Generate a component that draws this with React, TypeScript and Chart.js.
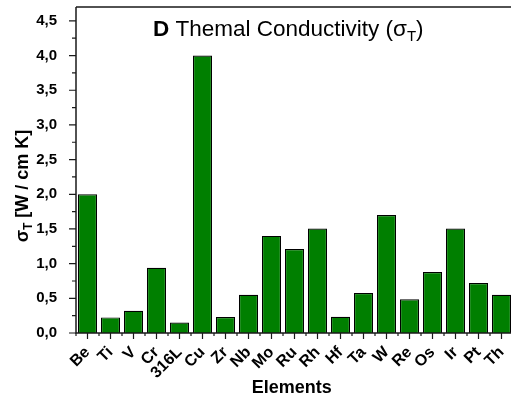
import React, { useEffect, useRef } from 'react';
import { Chart, registerables } from 'chart.js';

Chart.register(...registerables);

const categories = ['Be', 'Ti', 'V', 'Cr', '316L', 'Cu', 'Zr', 'Nb', 'Mo', 'Ru', 'Rh', 'Hf', 'Ta', 'W', 'Re', 'Os', 'Ir', 'Pt', 'Th'];
const conductivity = [2.0, 0.225, 0.32, 0.94, 0.15, 4.0, 0.23, 0.55, 1.4, 1.21, 1.505, 0.235, 0.577, 1.7, 0.485, 0.88, 1.505, 0.72, 0.55];
const yMajorTicks = [0, 0.5, 1.0, 1.5, 2.0, 2.5, 3.0, 3.5, 4.0, 4.5];
const yMinorTicks = [0.25, 0.75, 1.25, 1.75, 2.25, 2.75, 3.25, 3.75, 4.25];
const yMax = 4.7;
const titleBold = 'D';
const titleText = ' Themal Conductivity (';
const yTitleText = ' [W / cm K]';
const xTitleText = 'Elements';

const FONT = '"Liberation Sans", Arial, sans-serif';

const decorPlugin = {
  id: 'decor',
  afterDraw(chart: any) {
    const ctx = chart.ctx as CanvasRenderingContext2D;
    const area = chart.chartArea;
    const xs = chart.scales.x;
    const ys = chart.scales.y;
    ctx.save();
    // frame lines
    ctx.strokeStyle = '#1a1a1a';
    ctx.lineWidth = 1.5;
    ctx.beginPath();
    ctx.moveTo(area.left, area.top);
    ctx.lineTo(chart.width, area.top);
    ctx.moveTo(area.left, area.top);
    ctx.lineTo(area.left, area.bottom);
    ctx.lineTo(chart.width, area.bottom);
    ctx.stroke();
    // y ticks
    ctx.lineWidth = 1.2;
    ctx.beginPath();
    yMajorTicks.forEach((v) => {
      const y = ys.getPixelForValue(v);
      ctx.moveTo(area.left - 7, y);
      ctx.lineTo(area.left, y);
    });
    yMinorTicks.forEach((v) => {
      const y = ys.getPixelForValue(v);
      ctx.moveTo(area.left - 4, y);
      ctx.lineTo(area.left, y);
    });
    // x ticks
    const step = xs.getPixelForValue(1) - xs.getPixelForValue(0);
    categories.forEach((_, i) => {
      const x = xs.getPixelForValue(i);
      ctx.moveTo(x, area.bottom);
      ctx.lineTo(x, area.bottom + 6);
      const xb = x - step / 2;
      ctx.moveTo(xb, area.bottom);
      ctx.lineTo(xb, area.bottom + 3);
    });
    ctx.stroke();

    // main title
    ctx.fillStyle = '#000';
    ctx.textBaseline = 'alphabetic';
    ctx.textAlign = 'left';
    let tx = 153;
    const ty = 36;
    ctx.font = `bold 22.5px ${FONT}`;
    ctx.fillText(titleBold, tx, ty);
    tx += ctx.measureText(titleBold).width;
    ctx.font = `22.5px ${FONT}`;
    ctx.fillText(titleText, tx, ty);
    tx += ctx.measureText(titleText).width;
    ctx.fillText('σ', tx, ty);
    tx += ctx.measureText('σ').width;
    ctx.font = `15px ${FONT}`;
    ctx.fillText('T', tx, ty + 5);
    tx += ctx.measureText('T').width;
    ctx.font = `22.5px ${FONT}`;
    ctx.fillText(')', tx, ty);

    // y title
    ctx.save();
    ctx.translate(28, 186);
    ctx.rotate(-Math.PI / 2);
    ctx.font = `bold 18px ${FONT}`;
    const wS = ctx.measureText('σ').width;
    const wR = ctx.measureText(yTitleText).width;
    ctx.font = `bold 12px ${FONT}`;
    const wT = ctx.measureText('T').width;
    let sx = -(wS + wT + wR) / 2;
    ctx.font = `bold 18px ${FONT}`;
    ctx.fillText('σ', sx, 0);
    sx += wS;
    ctx.font = `bold 12px ${FONT}`;
    ctx.fillText('T', sx, 4);
    sx += wT;
    ctx.font = `bold 18px ${FONT}`;
    ctx.fillText(yTitleText, sx, 0);
    ctx.restore();

    // x title
    ctx.font = `bold 18px ${FONT}`;
    ctx.textAlign = 'center';
    ctx.fillText(xTitleText, 291.7, 392.5);
    ctx.restore();
  },
};

export default function App() {
  const ref = useRef<HTMLCanvasElement>(null);
  useEffect(() => {
    if (!ref.current) return;
    const chart = new Chart(ref.current, {
      type: 'bar',
      data: {
        labels: categories,
        datasets: [
          {
            data: conductivity,
            backgroundColor: '#007f00',
            borderColor: '#000',
            borderWidth: 1.2,
            categoryPercentage: 1,
            barPercentage: 0.83,
          },
        ],
      },
      options: {
        animation: false,
        responsive: false,
        events: [],
        layout: { padding: { top: 7, right: 7, left: 0, bottom: 0 } },
        plugins: { legend: { display: false }, tooltip: { enabled: false }, title: { display: false } },
        scales: {
          x: {
            offset: true,
            grid: { display: false },
            border: { display: false },
            ticks: {
              autoSkip: false,
              minRotation: 45,
              maxRotation: 45,
              padding: 2,
              color: '#000',
              font: { family: FONT, size: 16, weight: 'bold' },
            },
            afterFit: (s: any) => {
              s.height = 64;
              s.paddingLeft = 0;
              s.paddingRight = 0;
            },
          },
          y: {
            min: 0,
            max: yMax,
            grid: { display: false },
            border: { display: false },
            afterBuildTicks: (s: any) => {
              s.ticks = yMajorTicks.map((v) => ({ value: v }));
            },
            ticks: {
              padding: 11,
              color: '#000',
              font: { family: FONT, size: 15, weight: 'bold' },
              callback: (v: any) => Number(v).toFixed(1).replace('.', ','),
            },
            afterFit: (s: any) => {
              s.width = 76;
              s.paddingTop = 0;
              s.paddingBottom = 0;
            },
          },
        },
      },
      plugins: [decorPlugin],
    });
    return () => chart.destroy();
  }, []);
  return (
    <div style={{ position: 'fixed', left: 0, top: 0, width: 520, height: 397, background: '#fff' }}>
      <canvas ref={ref} width={520} height={397} style={{ display: 'block' }} />
    </div>
  );
}
